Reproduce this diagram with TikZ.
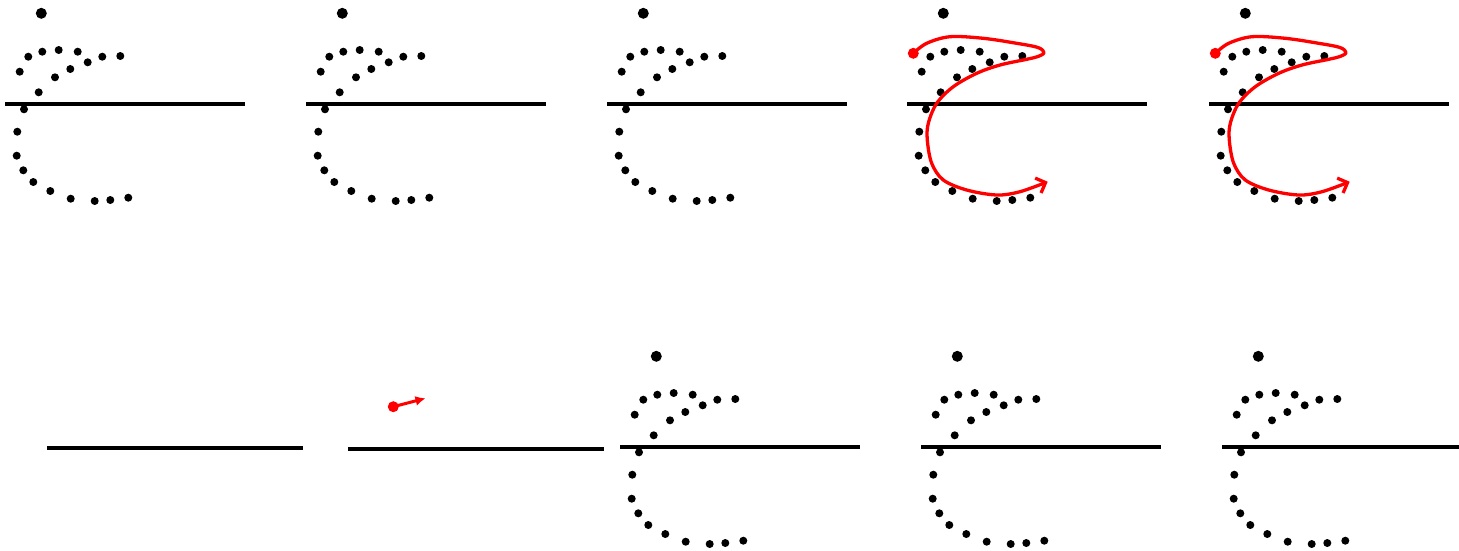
\documentclass[tikz,border=0pt]{standalone}
\usetikzlibrary{arrows.meta}
\begin{document}
\begin{tikzpicture}[x=1pt,y=-1pt,
  dotsm/.style={circle,fill=black,inner sep=0pt,minimum size=8pt},
  dotbig/.style={circle,fill=black,inner sep=0pt,minimum size=11pt},
  baseline/.style={line width=3.3pt,black},
  reddot/.style={circle,fill=red,inner sep=0pt,minimum size=11pt},
  redpath/.style={red,line width=3.3pt,line cap=round,line join=round},
]
\useasboundingbox (0,0) rectangle (1459,550);
\newcommand{\dotpanel}[3]{%
  \begin{scope}[shift={(#2,#3)}]
    \node[dotbig] (#1b) at (41.3,13.3) {};
    \foreach \px/\py [count=\i] in {28.3/56.7,42.3/51.7,58.7/50,77.7/51.7,102.3/56.7,120.3/56,
      19.7/71.7,38.7/92.3,55/77.3,70.3/69,87.7/62.3,
      24/109.3,17.3/131.7,16.7/155.7,23.3/170.3,33.3/182,50.3/191,70.7/198.7,94.7/201,110.3/200,128.3/197.7}
      \node[dotsm] (#1d\i) at (\px,\py) {};
    \coordinate (#1l) at (5,104);
    \coordinate (#1r) at (245,104);
    \draw[baseline] (#1l) -- (#1r);
  \end{scope}}
\newcommand{\redcurve}[3]{%
  \begin{scope}[shift={(#2,#3)}]
    \node[reddot] (#1s) at (11.3,53.3) {};
    \draw[redpath,-{Straight Barb[length=8pt,width=16pt,line width=3.3pt]}]
      plot[smooth,tension=0.55] coordinates {(11.3,53.3) (24.7,43.3) (48,36.7) (81.3,38.3) (114.7,43.3) (136,47.5) (142,52.7) (136,56.5)
      (124.7,59.3) (98,65) (74.7,73.3) (51.3,86.7) (34.7,103.3) (26.3,123.3) (25.3,140) (29.7,163.3)
      (41.3,180) (64.7,190) (94.7,195) (118,191.7) (145.7,181.7)};
  \end{scope}}
\dotpanel{pa}{0}{0}
\dotpanel{pb}{301}{0}
\dotpanel{pc}{602}{0}
\dotpanel{pd}{902}{0}
\dotpanel{pe}{1204}{0}
\redcurve{ra}{902}{0}
\redcurve{rb}{1204}{0}
% bottom row
\coordinate (qal) at (47,448);
\coordinate (qar) at (303,448);
\draw[baseline] (qal) -- (qar);
\coordinate (qbl) at (348,449);
\coordinate (qbr) at (604,449);
\draw[baseline] (qbl) -- (qbr);
\node[reddot] (qbs) at (393.3,406.7) {};
\coordinate (qbt) at (425.5,398.3);
\draw[red,line width=3pt,-{Latex[length=10pt,width=10pt]}] (qbs.center) -- (qbt);
\dotpanel{pf}{615}{343}
\dotpanel{pg}{916}{343}
\dotpanel{ph}{1217}{343}
\end{tikzpicture}
\end{document}
